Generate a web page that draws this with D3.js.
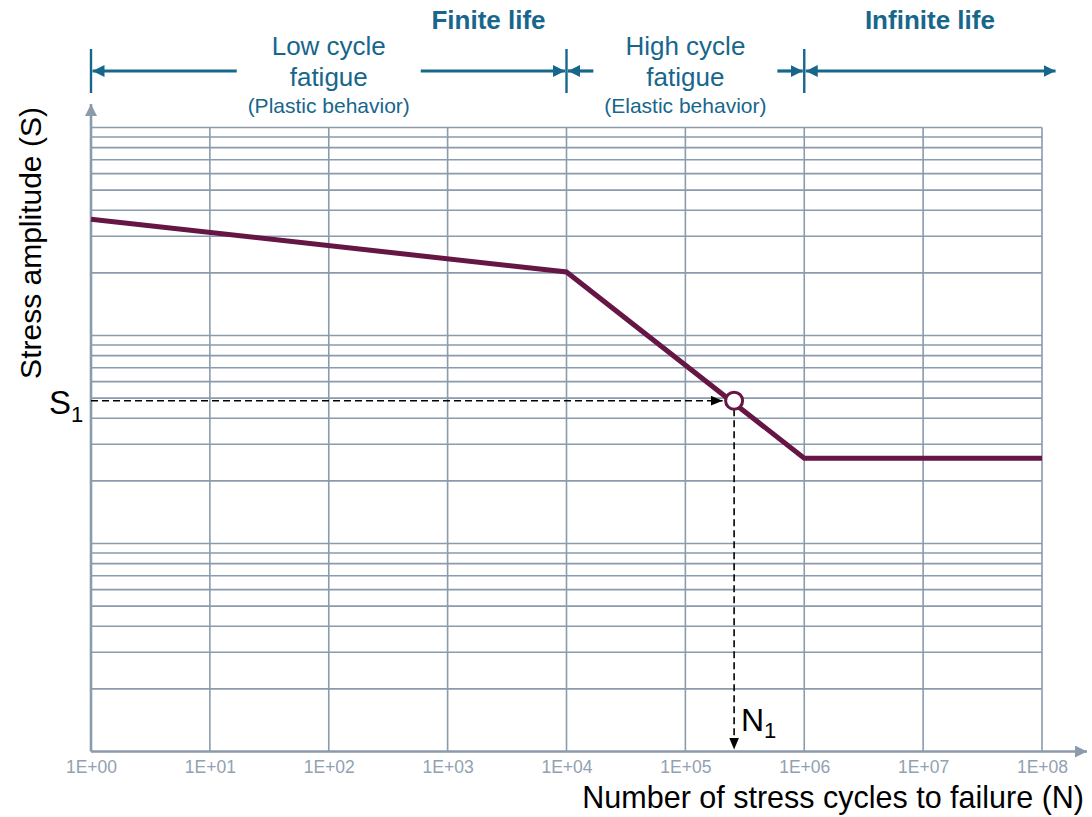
<!DOCTYPE html>
<html>
<head>
<meta charset="utf-8">
<script src="https://cdn.jsdelivr.net/npm/d3@7"></script>
<style>
  body { margin: 0; background: #fff; }
  text { font-family: 'Liberation Sans', Arial, sans-serif; }
</style>
</head>
<body>
<script>
// decade ticks on the N axis
const decadeN = [1, 1e1, 1e2, 1e3, 1e4, 1e5, 1e6, 1e7, 1e8];
const tickLabels = ['1E+00', '1E+01', '1E+02', '1E+03', '1E+04', '1E+05', '1E+06', '1E+07', '1E+08'];

// S-N curve
const curveN = [1, 1e4, 1e6, 1e8];
const curveS = [362, 202, 25.7, 25.7];

// marked point
const pointN1 = 2.57e5;
const pointS1 = 48.6;

// header regions
const regionBounds = [1, 1e4, 1e6, 1.3e8];
const regionTitles = [['Low cycle', 'fatigue'], ['High cycle', 'fatigue']];
const regionNotes = ['(Plastic behavior)', '(Elastic behavior)'];
const lifeLabels = ['Finite life', 'Infinite life'];

const w = 1092;
const h = 817;
const gridColor = '#8a9bab';
const blue = '#17668c';
const maroon = '#661645';

const svg = d3.select('body').append('svg').attr('width', w).attr('height', h);

const defs = svg.append('defs');
function marker(id, color, len, wid) {
  defs
    .append('marker')
    .attr('id', id)
    .attr('markerUnits', 'userSpaceOnUse')
    .attr('markerWidth', len)
    .attr('markerHeight', wid)
    .attr('refX', len)
    .attr('refY', wid / 2)
    .attr('orient', 'auto-start-reverse')
    .append('path')
    .attr('d', `M0,0 L${len},${wid / 2} L0,${wid} Z`)
    .attr('fill', color);
}
marker('arrBlue', blue, 12, 12);
marker('arrGrey', gridColor, 12, 12);
marker('arrBlack', '#000', 12, 10);

// scales
const x = d3.scaleLog().domain([1, 1e8]).range([91, 1042]);
const y = d3.scaleLog().domain([1, 1000]).range([751.5, 127.5]);

// horizontal grid (log minor lines)
svg
  .append('g')
  .selectAll('line')
  .data(y.ticks().filter((d) => d > 1))
  .enter()
  .append('line')
  .attr('x1', x(1))
  .attr('x2', x(1e8))
  .attr('y1', (d) => y(d))
  .attr('y2', (d) => y(d))
  .attr('stroke', gridColor)
  .attr('stroke-width', 1.6);

// vertical grid
svg
  .append('g')
  .selectAll('line')
  .data(decadeN.slice(1))
  .enter()
  .append('line')
  .attr('x1', (d) => x(d))
  .attr('x2', (d) => x(d))
  .attr('y1', y(1000))
  .attr('y2', y(1))
  .attr('stroke', gridColor)
  .attr('stroke-width', 1.6);

// axes with arrows
svg
  .append('line')
  .attr('x1', x(1))
  .attr('x2', 1087)
  .attr('y1', y(1))
  .attr('y2', y(1))
  .attr('stroke', gridColor)
  .attr('stroke-width', 2.6)
  .attr('marker-end', 'url(#arrGrey)');

svg
  .append('line')
  .attr('x1', x(1))
  .attr('x2', x(1))
  .attr('y1', y(1))
  .attr('y2', 104)
  .attr('stroke', gridColor)
  .attr('stroke-width', 2.6)
  .attr('marker-end', 'url(#arrGrey)');

// x tick labels
const xAxis = d3
  .axisBottom(x)
  .tickValues(decadeN)
  .tickSize(0)
  .tickPadding(9)
  .tickFormat((d, i) => tickLabels[i]);

const gx = svg.append('g').attr('transform', `translate(0, ${y(1)})`).call(xAxis);
gx.select('.domain').remove();
gx.selectAll('text')
  .attr('fill', '#91a1b1')
  .style('font-size', '17.5px')
  .style('font-family', "'Liberation Sans', Arial, sans-serif");

// axis titles
svg
  .append('text')
  .attr('x', 1084)
  .attr('y', 808)
  .attr('text-anchor', 'end')
  .style('font-size', '30.5px')
  .attr('fill', '#000')
  .text('Number of stress cycles to failure (N)');

svg
  .append('text')
  .attr('transform', 'translate(41, 243) rotate(-90)')
  .attr('text-anchor', 'middle')
  .style('font-size', '30px')
  .attr('fill', '#000')
  .text('Stress amplitude (S)');

// the S-N curve
const line = d3
  .line()
  .x((d) => x(d[0]))
  .y((d) => y(d[1]));

svg
  .append('path')
  .datum(d3.zip(curveN, curveS))
  .attr('d', line)
  .attr('fill', 'none')
  .attr('stroke', maroon)
  .attr('stroke-width', 5)
  .attr('stroke-linejoin', 'miter');

// dashed guides to the point
const px = x(pointN1);
const py = y(pointS1);
const r = 8.5;

svg
  .append('line')
  .attr('x1', x(1))
  .attr('x2', px - r - 3)
  .attr('y1', py)
  .attr('y2', py)
  .attr('stroke', '#000')
  .attr('stroke-width', 1.6)
  .attr('stroke-dasharray', '7,4')
  .attr('marker-end', 'url(#arrBlack)');

svg
  .append('line')
  .attr('x1', px)
  .attr('x2', px)
  .attr('y1', py + r)
  .attr('y2', y(1) - 2)
  .attr('stroke', '#000')
  .attr('stroke-width', 1.6)
  .attr('stroke-dasharray', '7,4')
  .attr('marker-end', 'url(#arrBlack)');

svg
  .append('circle')
  .attr('cx', px)
  .attr('cy', py)
  .attr('r', r)
  .attr('fill', '#fff')
  .attr('stroke', maroon)
  .attr('stroke-width', 3);

// S1 and N1 labels
const s1 = svg.append('text').attr('x', 49).attr('y', 414).style('font-size', '33px');
s1.append('tspan').text('S');
s1.append('tspan').attr('dy', 8).style('font-size', '22px').text('1');

const n1 = svg.append('text').attr('x', 741).attr('y', 731).style('font-size', '32px');
n1.append('tspan').text('N');
n1.append('tspan').attr('dy', 7).style('font-size', '22px').text('1');

// header brackets
const header = svg.append('g');
const arrowY = 71;
const gap = 92;

header
  .selectAll('.sep')
  .data(regionBounds.slice(0, 3))
  .enter()
  .append('line')
  .attr('class', 'sep')
  .attr('x1', (d) => x(d))
  .attr('x2', (d) => x(d))
  .attr('y1', 49)
  .attr('y2', 93)
  .attr('stroke', blue)
  .attr('stroke-width', 2.4);

const segs = [];
regionTitles.forEach((t, i) => {
  const a = x(regionBounds[i]);
  const b = x(regionBounds[i + 1]);
  const mid = (a + b) / 2;
  segs.push([mid - gap, a + 1.5]);
  segs.push([mid + gap, b - 1.5]);

  const tx = header.append('text').attr('text-anchor', 'middle').attr('fill', blue);
  tx.append('tspan').attr('x', mid).attr('y', 55).style('font-size', '26px').text(t[0]);
  tx.append('tspan').attr('x', mid).attr('y', 86).style('font-size', '26px').text(t[1]);
  tx.append('tspan').attr('x', mid).attr('y', 113).style('font-size', '21px').text(regionNotes[i]);
});

header
  .selectAll('.seg')
  .data(segs)
  .enter()
  .append('line')
  .attr('class', 'seg')
  .attr('x1', (d) => d[0])
  .attr('x2', (d) => d[1])
  .attr('y1', arrowY)
  .attr('y2', arrowY)
  .attr('stroke', blue)
  .attr('stroke-width', 3.2)
  .attr('marker-end', 'url(#arrBlue)');

// infinite life double arrow
header
  .append('line')
  .attr('x1', x(regionBounds[2]) + 1.5)
  .attr('x2', x(regionBounds[3]))
  .attr('y1', arrowY)
  .attr('y2', arrowY)
  .attr('stroke', blue)
  .attr('stroke-width', 3.2)
  .attr('marker-start', 'url(#arrBlue)')
  .attr('marker-end', 'url(#arrBlue)');

header
  .append('text')
  .attr('x', x(regionBounds[1]) - 78)
  .attr('y', 29)
  .attr('text-anchor', 'middle')
  .attr('fill', blue)
  .style('font-size', '26px')
  .style('font-weight', 'bold')
  .text(lifeLabels[0]);

header
  .append('text')
  .attr('x', (x(regionBounds[2]) + x(regionBounds[3])) / 2)
  .attr('y', 29)
  .attr('text-anchor', 'middle')
  .attr('fill', blue)
  .style('font-size', '26px')
  .style('font-weight', 'bold')
  .text(lifeLabels[1]);
</script>
</body>
</html>
